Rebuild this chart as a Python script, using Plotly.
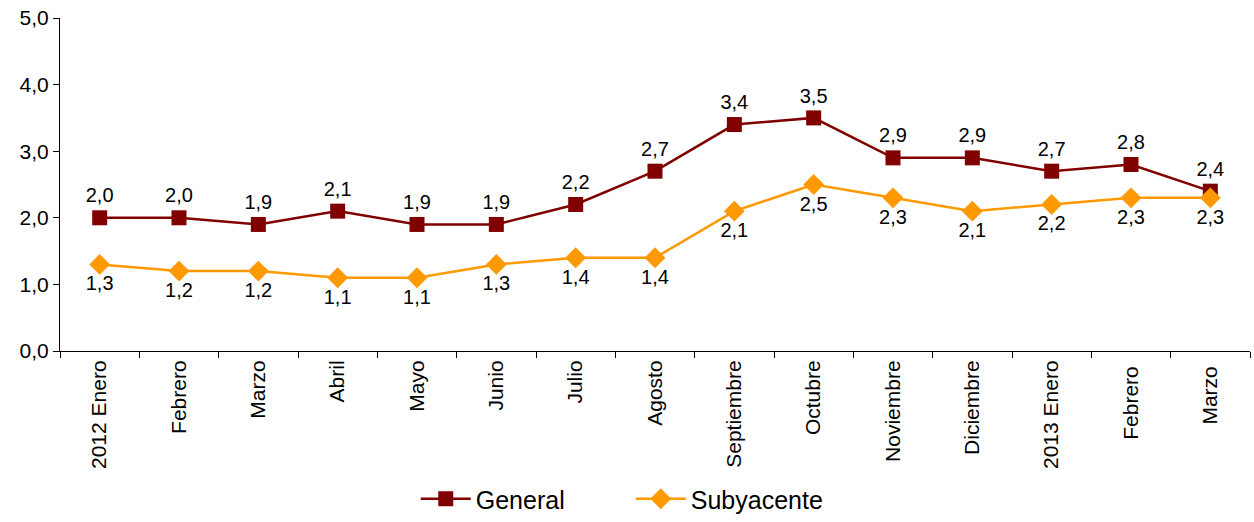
import plotly.graph_objects as go

categories = ["2012 Enero", "Febrero", "Marzo", "Abril", "Mayo", "Junio", "Julio",
              "Agosto", "Septiembre", "Octubre", "Noviembre", "Diciembre",
              "2013 Enero", "Febrero ", "Marzo "]
general = [2.0, 2.0, 1.9, 2.1, 1.9, 1.9, 2.2, 2.7, 3.4, 3.5, 2.9, 2.9, 2.7, 2.8, 2.4]
subyacente = [1.3, 1.2, 1.2, 1.1, 1.1, 1.3, 1.4, 1.4, 2.1, 2.5, 2.3, 2.1, 2.2, 2.3, 2.3]
y_ticks = [0, 1, 2, 3, 4, 5]
y_tick_labels = ["0,0", "1,0", "2,0", "3,0", "4,0", "5,0"]

def fmt(v):
    return f"{v:.1f}".replace(".", ",")

FONT = "Liberation Sans, Arial, sans-serif"

fig = go.Figure()
fig.add_trace(go.Scatter(
    x=categories, y=general, name="General", mode="lines+markers+text",
    line=dict(color="#800000", width=2.5),
    marker=dict(symbol="square", size=15, color="#800000"),
    text=[fmt(v) for v in general], textposition="top center",
    textfont=dict(family=FONT, size=20, color="black"),
))
fig.add_trace(go.Scatter(
    x=categories, y=subyacente, name="Subyacente", mode="lines+markers+text",
    line=dict(color="#FF9900", width=2.5),
    marker=dict(symbol="diamond", size=16, color="#FF9900"),
    text=[fmt(v) for v in subyacente], textposition="bottom center",
    textfont=dict(family=FONT, size=20, color="black"),
))

fig.update_layout(
    width=1254, height=522,
    margin=dict(l=60, r=4, t=18, b=171),
    paper_bgcolor="white", plot_bgcolor="white",
    font=dict(family=FONT, size=20, color="black"),
    showlegend=True,
    legend=dict(orientation="h", x=0.503, xanchor="center", xref="container",
                y=0.0, yanchor="bottom", yref="container",
                font=dict(size=25), itemwidth=50,
                entrywidth=150, entrywidthmode="pixels"),
)
fig.update_xaxes(
    type="category", showline=True, linecolor="black", linewidth=1,
    ticks="outside", tickson="boundaries", ticklen=6, tickcolor="black",
    tickangle=-90, tickfont=dict(size=21), showgrid=False, zeroline=False,
    range=[-0.5, len(categories) - 0.5], automargin=False,
)
fig.update_yaxes(
    range=[0, 5], tickvals=y_ticks, ticktext=y_tick_labels,
    showline=True, linecolor="black", linewidth=1,
    ticks="outside", ticklen=6, tickcolor="black",
    showgrid=False, zeroline=False, tickfont=dict(size=21), automargin=False,
)

fig.write_html("out.html", config={"displayModeBar": False},
               post_script="document.body.style.margin='0';")
